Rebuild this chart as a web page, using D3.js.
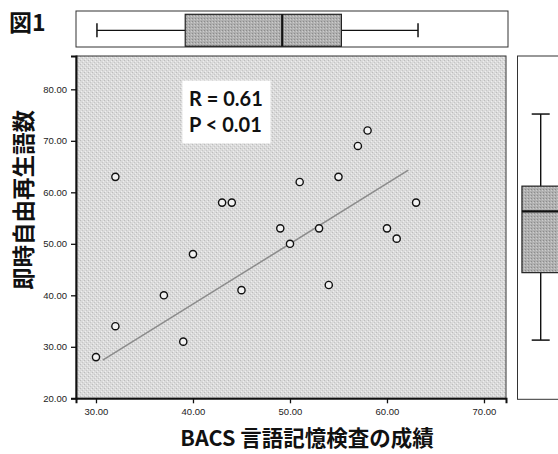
<!DOCTYPE html>
<html><head><meta charset="utf-8">
<script src="https://cdn.jsdelivr.net/npm/d3@7"></script>
<style>
html,body{margin:0;padding:0;background:#fff;}
svg{display:block;}
</style></head>
<body>
<svg id="chart" width="558" height="454"></svg>
<script>
// ---- data ----
const pointsX = [30, 32, 32, 37, 39, 40, 43, 44, 45, 49, 50, 51, 53, 54, 55, 57, 58, 60, 61, 63];
const pointsY = [28, 34, 63, 40, 31, 48, 58, 58, 41, 53, 50, 62, 53, 42, 63, 69, 72, 53, 51, 58];
const fitLineX = [30.7, 62.2];
const fitLineY = [27.4, 64.3];
// marginal boxplots: [whiskerLow, Q1, median, Q3, whiskerHigh]
const boxX = [30.1, 39.2, 49.2, 55.3, 63.2];
const boxY = [31.3, 44.4, 56.3, 61.2, 75.2];
const xTicks = [30, 40, 50, 60, 70];
const yTicks = [20, 30, 40, 50, 60, 70, 80];
const statLines = ["R = 0.61", "P < 0.01"];
const title = "図1";
const xLabel = "BACS 言語記憶検査の成績";
const yLabel = "即時自由再生語数";

const svg = d3.select("#chart");
const plot = {left: 76, right: 506, top: 56, bottom: 398.3};
const x = d3.scaleLinear().domain([27.94, 72.27]).range([plot.left, plot.right]);
const y = d3.scaleLinear().domain([20, 86.47]).range([plot.bottom, plot.top]);

// title
svg.append("text").attr("x", 9).attr("y", 31)
  .attr("font-family", "Noto Sans CJK JP").attr("font-weight", "bold")
  .attr("font-size", 23).attr("fill", "#111").text(title);

// background texture pattern
const defs = svg.append("defs");
const pat = defs.append("pattern").attr("id", "stip").attr("width", 4).attr("height", 4)
  .attr("patternUnits", "userSpaceOnUse");
pat.append("rect").attr("width", 4).attr("height", 4).attr("fill", "#dadada");
pat.append("rect").attr("x", 0).attr("y", 0).attr("width", 1).attr("height", 1).attr("fill", "#bcbcbc");
pat.append("rect").attr("x", 2).attr("y", 2).attr("width", 1).attr("height", 1).attr("fill", "#c6c6c6");
pat.append("rect").attr("x", 3).attr("y", 1).attr("width", 1).attr("height", 1).attr("fill", "#eeeeee");
pat.append("rect").attr("x", 1).attr("y", 3).attr("width", 1).attr("height", 1).attr("fill", "#eeeeee");
const pat2 = defs.append("pattern").attr("id", "stipBox").attr("width", 3).attr("height", 3)
  .attr("patternUnits", "userSpaceOnUse");
pat2.append("rect").attr("width", 3).attr("height", 3).attr("fill", "#b0b0b0");
pat2.append("rect").attr("x", 0).attr("y", 0).attr("width", 1).attr("height", 1).attr("fill", "#8c8c8c");
pat2.append("rect").attr("x", 2).attr("y", 1).attr("width", 1).attr("height", 1).attr("fill", "#cccccc");

// main plot background
svg.append("rect").attr("x", plot.left).attr("y", plot.top)
  .attr("width", plot.right - plot.left).attr("height", plot.bottom - plot.top)
  .attr("fill", "url(#stip)").attr("stroke", "#333").attr("stroke-width", 1);

// axes
const axisFont = "Liberation Sans";
const xAxis = svg.append("g").attr("transform", `translate(0,${plot.bottom})`)
  .call(d3.axisBottom(x).tickValues(xTicks).tickFormat(d3.format(".2f")).tickSizeOuter(0).tickSize(5));
const yAxis = svg.append("g").attr("transform", `translate(${plot.left},0)`)
  .call(d3.axisLeft(y).tickValues(yTicks).tickFormat(d3.format(".2f")).tickSizeOuter(0).tickSize(5));
[xAxis, yAxis].forEach(g => {
  g.select(".domain").attr("stroke", "#111").attr("stroke-width", 2);
  g.selectAll(".tick line").attr("stroke", "#111").attr("stroke-width", 1.3);
  g.selectAll(".tick text").attr("font-family", axisFont).attr("font-size", 9.5).attr("fill", "#222");
});
xAxis.selectAll(".tick text").attr("dy", "0.9em");
yAxis.selectAll(".tick text").attr("dx", "-0.1em");

// fit line
const fitData = fitLineX.map((v, i) => [v, fitLineY[i]]);
svg.append("path").datum(fitData)
  .attr("d", d3.line().x(d => x(d[0])).y(d => y(d[1])))
  .attr("stroke", "#8c8c8c").attr("stroke-width", 1.6).attr("fill", "none");

// points
const pts = pointsX.map((v, i) => ({x: v, y: pointsY[i]}));
svg.append("g").selectAll("circle").data(pts).join("circle")
  .attr("cx", d => x(d.x)).attr("cy", d => y(d.y)).attr("r", 3.6)
  .attr("fill", "#f2f2f2").attr("stroke", "#111").attr("stroke-width", 1.4);

// stats box
const sb = svg.append("g");
sb.append("rect").attr("x", x(38.9)).attr("y", y(81.7))
  .attr("width", x(48.0) - x(38.9)).attr("height", y(69.5) - y(81.7)).attr("fill", "#fff");
sb.selectAll("text").data(statLines).join("text")
  .attr("x", x(39.6)).attr("y", (d, i) => y(i === 0 ? 76.8 : 71.75))
  .attr("font-family", "Lato").attr("font-weight", "bold").attr("font-size", 20)
  .attr("fill", "#111").text(d => d);

// top marginal boxplot (x)
const topFrame = {top: 11, bottom: 47};
svg.append("rect").attr("x", plot.left).attr("y", topFrame.top)
  .attr("width", plot.right + 2 - plot.left).attr("height", topFrame.bottom - topFrame.top)
  .attr("fill", "#fff").attr("stroke", "#333").attr("stroke-width", 1);
const tb = svg.append("g");
const tcy = 30.3, tbh = 32, tcap = 14;
tb.append("line").attr("x1", x(boxX[0])).attr("x2", x(boxX[1])).attr("y1", tcy).attr("y2", tcy)
  .attr("stroke", "#111").attr("stroke-width", 1.3);
tb.append("line").attr("x1", x(boxX[3])).attr("x2", x(boxX[4])).attr("y1", tcy).attr("y2", tcy)
  .attr("stroke", "#111").attr("stroke-width", 1.3);
[boxX[0], boxX[4]].forEach(v => tb.append("line").attr("x1", x(v)).attr("x2", x(v))
  .attr("y1", tcy - tcap / 2).attr("y2", tcy + tcap / 2).attr("stroke", "#111").attr("stroke-width", 1.5));
tb.append("rect").attr("x", x(boxX[1])).attr("y", tcy - tbh / 2)
  .attr("width", x(boxX[3]) - x(boxX[1])).attr("height", tbh)
  .attr("fill", "url(#stipBox)").attr("stroke", "#222").attr("stroke-width", 1.2);
tb.append("line").attr("x1", x(boxX[2])).attr("x2", x(boxX[2]))
  .attr("y1", tcy - tbh / 2).attr("y2", tcy + tbh / 2).attr("stroke", "#111").attr("stroke-width", 2.2);

// right marginal boxplot (y)
const rightFrame = {left: 517.5, right: 575};
svg.append("rect").attr("x", rightFrame.left).attr("y", plot.top)
  .attr("width", rightFrame.right - rightFrame.left).attr("height", 399.3 - plot.top)
  .attr("fill", "#fff").attr("stroke", "#333").attr("stroke-width", 1);
const rb = svg.append("g");
const rcx = 540.7, rbw = 37.5, rcap = 18;
rb.append("line").attr("x1", rcx).attr("x2", rcx).attr("y1", y(boxY[0])).attr("y2", y(boxY[1]))
  .attr("stroke", "#111").attr("stroke-width", 1.4);
rb.append("line").attr("x1", rcx).attr("x2", rcx).attr("y1", y(boxY[3])).attr("y2", y(boxY[4]))
  .attr("stroke", "#111").attr("stroke-width", 1.4);
[boxY[0], boxY[4]].forEach(v => rb.append("line").attr("x1", rcx - rcap / 2).attr("x2", rcx + rcap / 2)
  .attr("y1", y(v)).attr("y2", y(v)).attr("stroke", "#111").attr("stroke-width", 1.5));
rb.append("rect").attr("x", rcx - rbw / 2).attr("y", y(boxY[3]))
  .attr("width", rbw).attr("height", y(boxY[1]) - y(boxY[3]))
  .attr("fill", "url(#stipBox)").attr("stroke", "#222").attr("stroke-width", 1.2);
rb.append("line").attr("x1", rcx - rbw / 2).attr("x2", rcx + rbw / 2)
  .attr("y1", y(boxY[2])).attr("y2", y(boxY[2])).attr("stroke", "#111").attr("stroke-width", 2.2);

// axis labels
svg.append("text").attr("x", 307).attr("y", 446).attr("text-anchor", "middle")
  .attr("font-family", "Noto Sans CJK JP").attr("font-weight", "bold").attr("font-size", 21.5)
  .attr("fill", "#111").text(xLabel);
svg.append("text").attr("transform", "translate(21.5,200) rotate(-90)").attr("text-anchor", "middle")
  .attr("dominant-baseline", "central")
  .attr("font-family", "Noto Sans CJK JP").attr("font-weight", "bold").attr("font-size", 22.5)
  .attr("fill", "#111").text(yLabel);
</script>
</body></html>
